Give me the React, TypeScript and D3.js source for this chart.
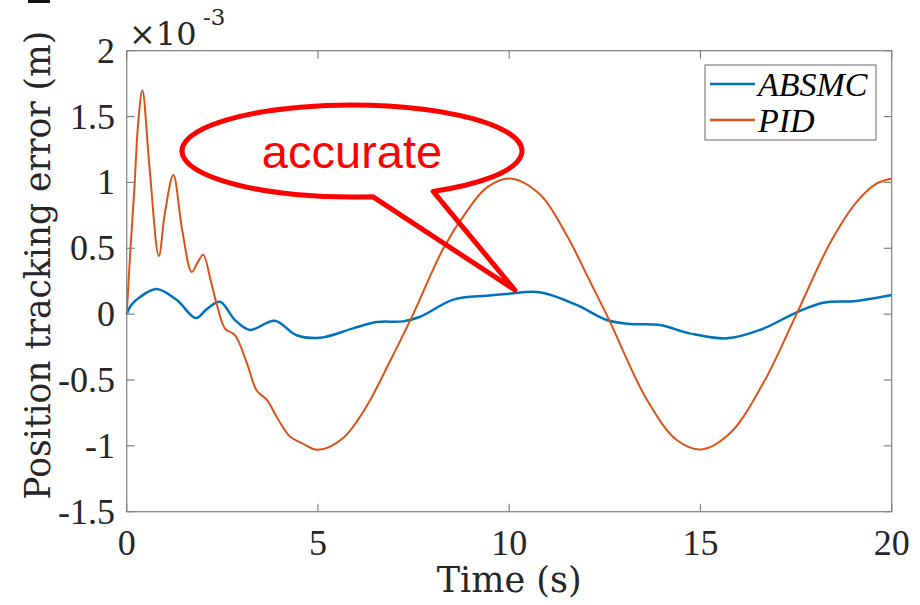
import React from "react";
import * as d3 from "d3";

const pidTime = [0, 0.1, 0.2, 0.3, 0.41, 0.6, 0.84, 1.0, 1.22, 1.45, 1.7, 1.85, 2.0, 2.2, 2.35, 2.57, 2.83, 3.14, 3.4, 3.66, 3.96, 4.27, 4.58, 5.0, 5.66, 6.27, 6.88, 7.49, 8.28, 8.89, 9.41, 10.02, 10.8, 11.5, 12.11, 12.59, 13.6, 14.38, 15.03, 15.77, 16.64, 17.52, 18.39, 19.08, 19.6, 20];
const pidError = [0, 0.5, 0.95, 1.45, 1.7, 1.1, 0.44, 0.77, 1.056, 0.64, 0.32, 0.39, 0.45, 0.25, 0.08, -0.11, -0.16, -0.37, -0.58, -0.65, -0.8, -0.93, -0.98, -1.03, -0.94, -0.7, -0.36, 0.0, 0.5, 0.78, 0.96, 1.03, 0.91, 0.6, 0.25, -0.03, -0.65, -0.956, -1.027, -0.905, -0.525, 0.006, 0.54, 0.85, 0.99, 1.03];

const absmcTime = [0, 0.12, 0.35, 0.78, 1.31, 1.81, 2.1, 2.44, 2.83, 3.22, 3.87, 4.44, 5.05, 5.92, 6.54, 7.23, 7.67, 8.54, 9.41, 9.93, 10.8, 11.76, 12.55, 13.16, 13.94, 14.72, 15.69, 16.56, 17.52, 18.21, 19.08, 20];
const absmcError = [0, 0.07, 0.13, 0.19, 0.107, -0.03, 0.04, 0.094, -0.045, -0.12, -0.05, -0.16, -0.18, -0.108, -0.06, -0.055, -0.02, 0.11, 0.14, 0.153, 0.166, 0.07, -0.045, -0.075, -0.083, -0.146, -0.184, -0.12, 0.014, 0.087, 0.1, 0.145];

const xTicks = [0, 5, 10, 15, 20];
const yTicks = [-1.5, -1, -0.5, 0, 0.5, 1, 1.5, 2];
const seriesNames = ["ABSMC", "PID"];
const seriesColors = ["#0072BD", "#D95319"];
const annotationText = "accurate";
const annotationTip = [10.15, 0.183];

export default function App() {
  const W = 920, H = 605;
  const x = d3.scaleLinear().domain([0, 20]).range([126.7, 891.7]);
  const y = d3.scaleLinear().domain([-1.5, 2]).range([511.7, 50.7]);
  const line = d3
    .line<[number, number]>()
    .x((d) => x(d[0]))
    .y((d) => y(d[1]))
    .curve(d3.curveCatmullRom.alpha(0.5));
  const absmcPath = line(absmcTime.map((t, i) => [t, absmcError[i]]) as [number, number][]) || "";
  const pidPath = line(pidTime.map((t, i) => [t, pidError[i]]) as [number, number][]) || "";

  const [x0, x1] = x.range();
  const [y0, y1] = y.range();
  const tickLen = 8;
  const axisColor = "#808080";
  const textColor = "#262626";
  const serifTick = "'Liberation Serif', serif";
  const serifLabel = "'DejaVu Serif', serif";

  // callout geometry
  const tipX = x(annotationTip[0]);
  const tipY = y(annotationTip[1]);
  const cx = 352, cy = 151, rx = 170, ry = 46;
  const a1 = (83 * Math.PI) / 180;
  const a2 = (61.5 * Math.PI) / 180;
  const b1 = [cx + rx * Math.cos(a1), cy + ry * Math.sin(a1)];
  const b2 = [cx + rx * Math.cos(a2), cy + ry * Math.sin(a2)];
  const calloutPath = `M ${b1[0]} ${b1[1]} L ${tipX} ${tipY} L ${b2[0]} ${b2[1]} A ${rx} ${ry} 0 1 0 ${b1[0]} ${b1[1]} Z`;

  return (
    <svg
      width={W}
      height={H}
      style={{ position: "absolute", left: 0, top: 0, background: "#fff" }}
    >
      <rect x={0} y={0} width={W} height={H} fill="#fff" />
      <rect x={28} y={0} width={22} height={3} fill="#111" />

      {/* data lines */}
      <path d={absmcPath} fill="none" stroke={seriesColors[0]} strokeWidth={2.5} />
      <path d={pidPath} fill="none" stroke={seriesColors[1]} strokeWidth={2} />

      {/* axes box */}
      <rect x={x0} y={y1} width={x1 - x0} height={y0 - y1} fill="none" stroke={axisColor} strokeWidth={1.2} />
      {xTicks.map((t) => (
        <g key={"xt" + t}>
          <line x1={x(t)} x2={x(t)} y1={y0} y2={y0 - tickLen} stroke={axisColor} strokeWidth={1.2} />
          <line x1={x(t)} x2={x(t)} y1={y1} y2={y1 + tickLen} stroke={axisColor} strokeWidth={1.2} />
          <text x={x(t)} y={555} textAnchor="middle" fontFamily={serifTick} fontSize={36} fill={textColor}>
            {t}
          </text>
        </g>
      ))}
      {yTicks.map((t) => (
        <g key={"yt" + t}>
          <line x1={x0} x2={x0 + tickLen} y1={y(t)} y2={y(t)} stroke={axisColor} strokeWidth={1.2} />
          <line x1={x1} x2={x1 - tickLen} y1={y(t)} y2={y(t)} stroke={axisColor} strokeWidth={1.2} />
          <text x={115} y={y(t) + 12} textAnchor="end" fontFamily={serifTick} fontSize={36} fill={textColor}>
            {t}
          </text>
        </g>
      ))}

      {/* exponent */}
      <text x={129} y={45} fontFamily={serifLabel} fontSize={32} fill={textColor}>
        ×10
      </text>
      <text x={203} y={25} fontFamily={serifLabel} fontSize={23} fill={textColor}>
        -3
      </text>

      {/* axis labels */}
      <text x={(x0 + x1) / 2} y={592} textAnchor="middle" fontFamily={serifLabel} fontSize={35} fill={textColor}>
        Time (s)
      </text>
      <text
        transform={`translate(50, ${(y0 + y1) / 2 - 16}) rotate(-90)`}
        textAnchor="middle"
        fontFamily={serifLabel}
        fontSize={34.5}
        fill={textColor}
      >
        Position tracking error (m)
      </text>

      {/* legend */}
      <rect x={705} y={65} width={171} height={75} fill="#fff" stroke={axisColor} strokeWidth={1.2} />
      {seriesNames.map((n, i) => (
        <g key={n}>
          <line x1={710} x2={755} y1={84 + i * 36} y2={84 + i * 36} stroke={seriesColors[i]} strokeWidth={2.5} />
          <text x={758} y={96 + i * 36} fontFamily={serifTick} fontStyle="italic" fontSize={34} fill="#000">
            {n}
          </text>
        </g>
      ))}

      {/* callout */}
      <path d={calloutPath} fill="none" stroke="#ff0000" strokeWidth={5} strokeLinejoin="round" />
      <text x={cx} y={168} textAnchor="middle" fontFamily="'Liberation Sans', Arial, sans-serif" fontSize={47} fill="#ff0000">
        {annotationText}
      </text>
    </svg>
  );
}
